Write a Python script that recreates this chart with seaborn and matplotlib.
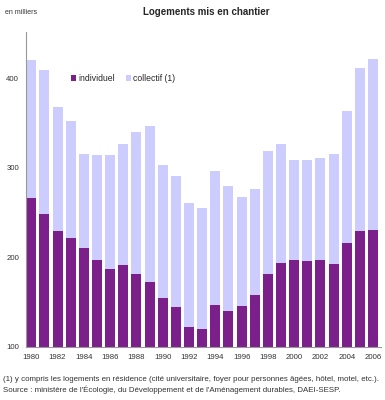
import numpy as np
import pandas as pd
import matplotlib
matplotlib.use("Agg")
import matplotlib.pyplot as plt
import seaborn as sns

years = [str(y) for y in range(1980, 2007)]
individuel = [266, 248, 229, 222, 210, 197, 187, 192, 181, 173, 155, 144, 122, 120,
              147, 140, 146, 158, 181, 194, 197, 196, 197, 193, 216, 230, 231]
total = [421, 409, 368, 352, 316, 314, 315, 327, 340, 347, 303, 291, 261, 255,
         297, 280, 267, 276, 319, 327, 309, 309, 311, 316, 364, 412, 422]
tick_years = [str(y) for y in range(1980, 2007, 2)]

df = pd.DataFrame({"annee": years, "individuel": individuel, "total": total})

sns.set_style("white")
plt.rcParams["font.family"] = ["Liberation Sans", "DejaVu Sans"]

fig = plt.figure(figsize=(3.85, 4.0), dpi=100)
ax = fig.add_axes([0.0675, 0.133, 0.922, 0.787])

sns.barplot(data=df, x="annee", y="total", color="#ccccff", saturation=1,
            width=0.76, linewidth=0, ax=ax, label="collectif (1)")
sns.barplot(data=df, x="annee", y="individuel", color="#7b1f8a", saturation=1,
            width=0.76, linewidth=0, ax=ax, label="individuel")

ax.set_ylim(100, 452)
ax.set_xlim(-0.4, 26.6)
ax.set_yticks([100, 200, 300, 400])
ax.set_xticks([years.index(t) for t in tick_years])
ax.set_xticklabels(tick_years)
ax.tick_params(axis="both", labelsize=5.6, colors="#333333", length=2, width=0.6, pad=3)
ax.set_xlabel("")
ax.set_ylabel("")
sns.despine(ax=ax)
for s in ["left", "bottom"]:
    ax.spines[s].set_color("#999999")
    ax.spines[s].set_linewidth(0.8)

handles, labels = ax.get_legend_handles_labels()
order = [labels.index("individuel"), labels.index("collectif (1)")]
ax.legend([handles[i] for i in order], [labels[i] for i in order], ncol=2,
          frameon=False, fontsize=6.2, loc="upper left", bbox_to_anchor=(0.105, 0.89),
          handlelength=0.6, handleheight=0.7, handletextpad=0.25, columnspacing=1.3)

fig.text(0.013, 0.97, "en milliers", fontsize=5, color="#333333", va="center")
fig.text(0.535, 0.97, "Logements mis en chantier", fontsize=7, fontweight="bold",
         ha="center", va="center")
fig.text(0.008, 0.052, "(1) y compris les logements en résidence (cité universitaire, foyer pour personnes âgées, hôtel, motel, etc.).",
         fontsize=5.7, color="#333333", va="center")
fig.text(0.008, 0.025, "Source : ministère de l'Écologie, du Développement et de l'Aménagement durables, DAEI-SESP.",
         fontsize=5.7, color="#333333", va="center")

fig.savefig("out.png", dpi=100)
